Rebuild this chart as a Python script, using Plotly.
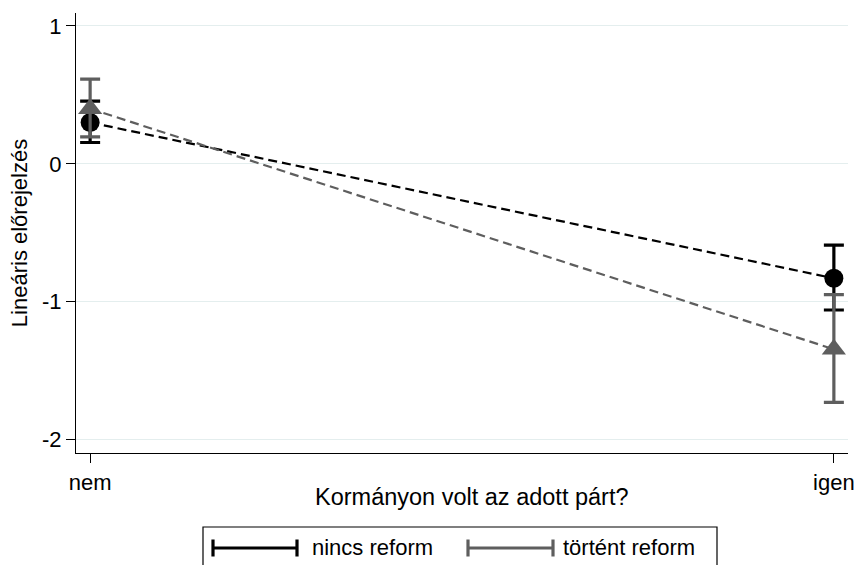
import plotly.graph_objects as go

categories = ["nem", "igen"]
x_pos = [0, 1]

nincs_est = [0.30, -0.83]
nincs_lo = [0.155, -1.06]
nincs_hi = [0.455, -0.59]

tortent_est = [0.40, -1.345]
tortent_lo = [0.195, -1.73]
tortent_hi = [0.615, -0.948]

y_ticks = [-2, -1, 0, 1]

BLACK = "#000000"
GRAY = "#5e5e5e"
FONT = "Liberation Sans, Arial, sans-serif"
FS = 22

def err(est, lo, hi):
    return dict(type="data", symmetric=False,
                array=[h - e for h, e in zip(hi, est)],
                arrayminus=[e - l for e, l in zip(est, lo)])

fig = go.Figure()
fig.add_trace(go.Scatter(
    x=x_pos, y=nincs_est, mode="lines+markers", name="nincs reform",
    line=dict(color=BLACK, width=2.2, dash="9px,5px"),
    marker=dict(symbol="circle", size=19, color=BLACK),
    error_y=dict(**err(nincs_est, nincs_lo, nincs_hi), color=BLACK, thickness=3.2, width=10),
    showlegend=False))
fig.add_trace(go.Scatter(
    x=x_pos, y=tortent_est, mode="lines+markers", name="történt reform",
    line=dict(color=GRAY, width=2.2, dash="9px,5px"),
    marker=dict(symbol="triangle-up", size=21, color=GRAY),
    error_y=dict(**err(tortent_est, tortent_lo, tortent_hi), color=GRAY, thickness=3.2, width=10),
    showlegend=False))

W, H = 855, 565
plot_l, plot_r, plot_t, plot_b = 76, 848, 13, 453
L, T, R, B = plot_l, plot_t, W - plot_r, H - plot_b
pw, ph = plot_r - plot_l, plot_b - plot_t

def px(xw):
    return (xw - plot_l) / pw

def py(yw):
    return (plot_b - yw) / ph

shapes = [
    dict(type="rect", xref="paper", yref="paper", x0=px(203), x1=px(717), y0=py(575), y1=py(527),
         line=dict(color="#000000", width=1.2), fillcolor="white", layer="above"),
]
annotations = []
for x0, x1, col, label, tx in [(213, 297, BLACK, "nincs reform", 310), (468, 553, GRAY, "történt reform", 561)]:
    ym = 548
    shapes.append(dict(type="line", xref="paper", yref="paper", x0=px(x0), x1=px(x1), y0=py(ym), y1=py(ym),
                       line=dict(color=col, width=3.2)))
    for xx in (x0, x1):
        shapes.append(dict(type="line", xref="paper", yref="paper", x0=px(xx), x1=px(xx), y0=py(ym - 8.5), y1=py(ym + 8.5),
                           line=dict(color=col, width=3.2)))
    annotations.append(dict(xref="paper", yref="paper", x=px(tx), y=py(ym - 1), text=label, showarrow=False,
                            xanchor="left", yanchor="middle", font=dict(size=FS, color="#000000", family=FONT)))

annotations.append(dict(xref="paper", yref="paper", x=px(472), y=py(497), text="Kormányon volt az adott párt?",
                        showarrow=False, xanchor="center", yanchor="middle",
                        font=dict(size=23.5, color="#000000", family=FONT)))

fig.update_layout(
    width=W, height=H,
    margin=dict(l=L, r=R, t=T, b=B),
    paper_bgcolor="white", plot_bgcolor="white",
    font=dict(family=FONT, size=FS, color="#000000"),
    shapes=shapes, annotations=annotations,
    xaxis=dict(range=[-0.019, 1.019], tickvals=x_pos, ticktext=categories, automargin=False,
               showgrid=False, zeroline=False, showline=True, linecolor="#000000", linewidth=1.3,
               ticks="outside", ticklen=9, tickwidth=1.3, tickcolor="#000000"),
    yaxis=dict(range=[-2.097, 1.094], tickvals=y_ticks, ticktext=[str(v) for v in y_ticks], automargin=False,
               showgrid=True, gridcolor="#e4eeee", gridwidth=1.3, zeroline=False,
               showline=True, linecolor="#000000", linewidth=1.3,
               ticks="outside", ticklen=9, tickwidth=1.3, tickcolor="#000000",
               title=dict(text="Lineáris előrejelzés", font=dict(size=FS), standoff=8)),
)

fig.write_html("out.html", config={"displayModeBar": False},
               post_script="document.body.style.margin='0';document.body.style.overflow='hidden';")
